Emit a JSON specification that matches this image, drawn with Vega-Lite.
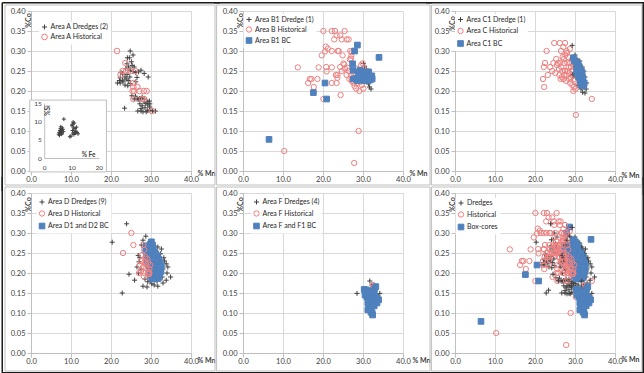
{
"$schema":"https://vega.github.io/schema/vega-lite/v6.json",
"background":"white",
"padding":{"left":0,"top":0,"right":0,"bottom":0},
"config":{"font":"Lato","view":{"stroke":null},
"axis":{"grid":true,"gridColor":"#d9d9d9","gridOpacity":1,"domainColor":"#bfbfbf","tickColor":"#bfbfbf","tickSize":4,"labelFontSize":7.5,"labelColor":"#404040","titleFontSize":7,"titleColor":"#404040","titleFontWeight":"bold","labelFlush":false,"labelPadding":2},
"legend":{"orient":"none","fillColor":"white","padding":2,"labelFontSize":7,"labelColor":"#262626","symbolStrokeWidth":1,"labelOffset":2.5,"title":null,"rowPadding":0}},
"datasets":{
"inset":[{"fe":5.5,"si":7.0},{"fe":5.8,"si":7.5},{"fe":6.0,"si":8.0},{"fe":6.2,"si":7.2},{"fe":6.5,"si":6.8},{"fe":5.3,"si":6.5},{"fe":6.8,"si":7.8},{"fe":6.1,"si":8.5},{"fe":5.6,"si":6.2},{"fe":6.4,"si":6.5},{"fe":7.0,"si":7.2},{"fe":6.6,"si":8.2},{"fe":5.9,"si":6.8},{"fe":6.3,"si":7.6},{"fe":10.2,"si":8.8},{"fe":10.6,"si":9.8},{"fe":11.0,"si":9.5},{"fe":10.4,"si":7.5},{"fe":10.8,"si":8.2},{"fe":11.3,"si":8.0},{"fe":11.6,"si":7.3},{"fe":12.0,"si":7.0},{"fe":10.5,"si":6.8},{"fe":11.1,"si":7.0},{"fe":12.4,"si":6.6},{"fe":10.9,"si":6.4},{"fe":11.8,"si":8.4},{"fe":10.3,"si":9.2},{"fe":11.5,"si":6.8},{"fe":7.2,"si":10.6},{"fe":9.4,"si":5.8},{"fe":9.8,"si":6.0}],
"pts":[
{"p":"A","t":"D","x":24.8,"y":0.300},{"p":"A","t":"D","x":25.5,"y":0.290},{"p":"A","t":"D","x":24.1,"y":0.283},{"p":"A","t":"D","x":24.6,"y":0.283},{"p":"A","t":"D","x":25.1,"y":0.273},{"p":"A","t":"D","x":24.0,"y":0.268},{"p":"A","t":"D","x":25.3,"y":0.264},{"p":"A","t":"D","x":24.4,"y":0.260},{"p":"A","t":"D","x":25.8,"y":0.260},{"p":"A","t":"D","x":23.7,"y":0.256},{"p":"A","t":"D","x":24.8,"y":0.252},{"p":"A","t":"D","x":25.5,"y":0.249},{"p":"A","t":"D","x":26.9,"y":0.248},{"p":"A","t":"D","x":22.5,"y":0.246},{"p":"A","t":"D","x":26.2,"y":0.246},{"p":"A","t":"D","x":22.9,"y":0.243},{"p":"A","t":"D","x":24.0,"y":0.241},{"p":"A","t":"D","x":23.5,"y":0.235},{"p":"A","t":"D","x":24.7,"y":0.235},{"p":"A","t":"D","x":22.3,"y":0.233},{"p":"A","t":"D","x":23.8,"y":0.230},{"p":"A","t":"D","x":22.9,"y":0.227},{"p":"A","t":"D","x":24.3,"y":0.226},{"p":"A","t":"D","x":22.1,"y":0.226},{"p":"A","t":"D","x":26.5,"y":0.234},{"p":"A","t":"D","x":27.5,"y":0.252},{"p":"A","t":"D","x":28.3,"y":0.244},{"p":"A","t":"D","x":29.3,"y":0.235},{"p":"A","t":"D","x":21.6,"y":0.220},{"p":"A","t":"D","x":22.3,"y":0.220},{"p":"A","t":"D","x":23.0,"y":0.223},{"p":"A","t":"D","x":26.2,"y":0.223},{"p":"A","t":"D","x":23.5,"y":0.215},{"p":"A","t":"D","x":24.2,"y":0.213},{"p":"A","t":"D","x":24.8,"y":0.219},{"p":"A","t":"D","x":25.8,"y":0.180},{"p":"A","t":"D","x":26.5,"y":0.180},{"p":"A","t":"D","x":27.1,"y":0.181},{"p":"A","t":"D","x":27.5,"y":0.181},{"p":"A","t":"D","x":27.8,"y":0.185},{"p":"A","t":"D","x":28.4,"y":0.180},{"p":"A","t":"D","x":28.3,"y":0.173},{"p":"A","t":"D","x":29.2,"y":0.173},{"p":"A","t":"D","x":29.6,"y":0.175},{"p":"A","t":"D","x":28.7,"y":0.169},{"p":"A","t":"D","x":27.2,"y":0.168},{"p":"A","t":"D","x":29.7,"y":0.168},{"p":"A","t":"D","x":27.8,"y":0.163},{"p":"A","t":"D","x":29.2,"y":0.165},{"p":"A","t":"D","x":29.7,"y":0.160},{"p":"A","t":"D","x":28.5,"y":0.158},{"p":"A","t":"D","x":27.5,"y":0.156},{"p":"A","t":"D","x":26.7,"y":0.150},{"p":"A","t":"D","x":27.5,"y":0.150},{"p":"A","t":"D","x":28.8,"y":0.148},{"p":"A","t":"D","x":29.2,"y":0.151},{"p":"A","t":"D","x":29.7,"y":0.152},{"p":"A","t":"D","x":30.4,"y":0.150},{"p":"A","t":"D","x":31.1,"y":0.150},{"p":"A","t":"D","x":28.0,"y":0.148},{"p":"A","t":"D","x":23.4,"y":0.157},{"p":"A","t":"D","x":25.2,"y":0.188},{"p":"A","t":"D","x":26.1,"y":0.187},{"p":"A","t":"D","x":26.8,"y":0.179},
{"p":"A","t":"H","x":21.5,"y":0.300},{"p":"A","t":"H","x":23.6,"y":0.270},{"p":"A","t":"H","x":22.9,"y":0.250},{"p":"A","t":"H","x":23.8,"y":0.250},{"p":"A","t":"H","x":24.8,"y":0.250},{"p":"A","t":"H","x":26.0,"y":0.250},{"p":"A","t":"H","x":22.4,"y":0.240},{"p":"A","t":"H","x":25.6,"y":0.220},{"p":"A","t":"H","x":25.6,"y":0.210},{"p":"A","t":"H","x":26.6,"y":0.210},{"p":"A","t":"H","x":25.4,"y":0.200},{"p":"A","t":"H","x":25.8,"y":0.200},{"p":"A","t":"H","x":27.1,"y":0.200},{"p":"A","t":"H","x":28.2,"y":0.200},{"p":"A","t":"H","x":28.9,"y":0.200},{"p":"A","t":"H","x":25.6,"y":0.180},{"p":"A","t":"H","x":27.75,"y":0.180},{"p":"A","t":"H","x":28.3,"y":0.180},{"p":"A","t":"H","x":30.25,"y":0.150},
{"p":"B","t":"D","x":30.1,"y":0.269},{"p":"B","t":"D","x":30.4,"y":0.262},{"p":"B","t":"D","x":30.8,"y":0.255},{"p":"B","t":"D","x":31.2,"y":0.235},{"p":"B","t":"D","x":31.6,"y":0.210},{"p":"B","t":"D","x":32.0,"y":0.205},{"p":"B","t":"D","x":30.6,"y":0.240},{"p":"B","t":"D","x":29.8,"y":0.250},{"p":"B","t":"D","x":31.0,"y":0.222},{"p":"B","t":"D","x":29.5,"y":0.232},{"p":"B","t":"D","x":30.3,"y":0.228},{"p":"B","t":"D","x":31.4,"y":0.218},
{"p":"B","t":"H","x":20.1,"y":0.350},{"p":"B","t":"H","x":22.2,"y":0.350},{"p":"B","t":"H","x":23.0,"y":0.350},{"p":"B","t":"H","x":25.4,"y":0.350},{"p":"B","t":"H","x":23.4,"y":0.339},{"p":"B","t":"H","x":24.3,"y":0.339},{"p":"B","t":"H","x":22.8,"y":0.329},{"p":"B","t":"H","x":24.7,"y":0.329},{"p":"B","t":"H","x":25.9,"y":0.329},{"p":"B","t":"H","x":26.4,"y":0.329},{"p":"B","t":"H","x":20.7,"y":0.311},{"p":"B","t":"H","x":21.2,"y":0.306},{"p":"B","t":"H","x":22.2,"y":0.300},{"p":"B","t":"H","x":23.7,"y":0.300},{"p":"B","t":"H","x":23.9,"y":0.300},{"p":"B","t":"H","x":26.8,"y":0.300},{"p":"B","t":"H","x":27.2,"y":0.297},{"p":"B","t":"H","x":19.7,"y":0.289},{"p":"B","t":"H","x":24.9,"y":0.289},{"p":"B","t":"H","x":26.7,"y":0.279},{"p":"B","t":"H","x":27.0,"y":0.281},{"p":"B","t":"H","x":27.1,"y":0.288},{"p":"B","t":"H","x":25.1,"y":0.269},{"p":"B","t":"H","x":25.3,"y":0.266},{"p":"B","t":"H","x":18.9,"y":0.259},{"p":"B","t":"H","x":20.8,"y":0.260},{"p":"B","t":"H","x":22.2,"y":0.259},{"p":"B","t":"H","x":13.7,"y":0.259},{"p":"B","t":"H","x":20.9,"y":0.249},{"p":"B","t":"H","x":23.2,"y":0.240},{"p":"B","t":"H","x":23.6,"y":0.240},{"p":"B","t":"H","x":24.3,"y":0.260},{"p":"B","t":"H","x":24.7,"y":0.250},{"p":"B","t":"H","x":25.5,"y":0.256},{"p":"B","t":"H","x":26.4,"y":0.250},{"p":"B","t":"H","x":25.9,"y":0.240},{"p":"B","t":"H","x":16.7,"y":0.230},{"p":"B","t":"H","x":17.1,"y":0.230},{"p":"B","t":"H","x":18.6,"y":0.230},{"p":"B","t":"H","x":16.3,"y":0.220},{"p":"B","t":"H","x":22.2,"y":0.220},{"p":"B","t":"H","x":23.4,"y":0.220},{"p":"B","t":"H","x":17.7,"y":0.210},{"p":"B","t":"H","x":20.1,"y":0.180},{"p":"B","t":"H","x":24.4,"y":0.190},{"p":"B","t":"H","x":26.6,"y":0.230},{"p":"B","t":"H","x":27.2,"y":0.230},{"p":"B","t":"H","x":27.6,"y":0.220},{"p":"B","t":"H","x":27.2,"y":0.225},{"p":"B","t":"H","x":27.9,"y":0.212},{"p":"B","t":"H","x":28.5,"y":0.220},{"p":"B","t":"H","x":28.9,"y":0.231},{"p":"B","t":"H","x":29.3,"y":0.223},{"p":"B","t":"H","x":29.7,"y":0.215},{"p":"B","t":"H","x":29.1,"y":0.200},{"p":"B","t":"H","x":29.5,"y":0.264},{"p":"B","t":"H","x":29.9,"y":0.269},{"p":"B","t":"H","x":30.1,"y":0.256},{"p":"B","t":"H","x":30.5,"y":0.248},{"p":"B","t":"H","x":30.0,"y":0.238},{"p":"B","t":"H","x":29.5,"y":0.244},{"p":"B","t":"H","x":28.9,"y":0.100},{"p":"B","t":"H","x":27.8,"y":0.020},{"p":"B","t":"H","x":10.3,"y":0.050},{"p":"B","t":"H","x":27.6,"y":0.244},{"p":"B","t":"H","x":27.0,"y":0.238},{"p":"B","t":"H","x":28.1,"y":0.238},{"p":"B","t":"H","x":28.3,"y":0.206},{"p":"B","t":"H","x":30.1,"y":0.206},{"p":"B","t":"H","x":28.5,"y":0.256},{"p":"B","t":"H","x":26.1,"y":0.258},{"p":"B","t":"H","x":23.6,"y":0.233},{"p":"B","t":"H","x":20.5,"y":0.299},
{"p":"B","t":"B","x":6.5,"y":0.079},{"p":"B","t":"B","x":17.6,"y":0.196},{"p":"B","t":"B","x":20.5,"y":0.220},{"p":"B","t":"B","x":20.9,"y":0.180},{"p":"B","t":"B","x":27.9,"y":0.300},{"p":"B","t":"B","x":28.6,"y":0.315},{"p":"B","t":"B","x":34.0,"y":0.284},{"p":"B","t":"B","x":27.4,"y":0.268},{"p":"B","t":"B","x":27.5,"y":0.252},{"p":"B","t":"B","x":27.6,"y":0.230},{"p":"B","t":"B","x":28.8,"y":0.248},{"p":"B","t":"B","x":29.3,"y":0.252},{"p":"B","t":"B","x":29.8,"y":0.248},{"p":"B","t":"B","x":29.1,"y":0.240},{"p":"B","t":"B","x":30.1,"y":0.241},{"p":"B","t":"B","x":30.5,"y":0.233},{"p":"B","t":"B","x":31.0,"y":0.238},{"p":"B","t":"B","x":31.4,"y":0.248},{"p":"B","t":"B","x":31.8,"y":0.233},{"p":"B","t":"B","x":32.2,"y":0.238},{"p":"B","t":"B","x":29.0,"y":0.230},{"p":"B","t":"B","x":29.6,"y":0.228},{"p":"B","t":"B","x":30.2,"y":0.226},{"p":"B","t":"B","x":30.8,"y":0.228},{"p":"B","t":"B","x":31.3,"y":0.226},{"p":"B","t":"B","x":31.8,"y":0.228},{"p":"B","t":"B","x":32.3,"y":0.230},{"p":"B","t":"B","x":29.4,"y":0.235},{"p":"B","t":"B","x":28.6,"y":0.226},{"p":"B","t":"B","x":28.4,"y":0.232},
{"p":"C","t":"H","x":22.3,"y":0.21},{"p":"C","t":"H","x":22.0,"y":0.23},{"p":"C","t":"H","x":22.5,"y":0.27},{"p":"C","t":"H","x":22.2,"y":0.26},{"p":"C","t":"H","x":22.9,"y":0.30},{"p":"C","t":"H","x":23.2,"y":0.24},{"p":"C","t":"H","x":23.8,"y":0.26},{"p":"C","t":"H","x":24.8,"y":0.32},{"p":"C","t":"H","x":26.2,"y":0.32},{"p":"C","t":"H","x":27.5,"y":0.32},{"p":"C","t":"H","x":27.1,"y":0.31},{"p":"C","t":"H","x":26.5,"y":0.30},{"p":"C","t":"H","x":27.9,"y":0.30},{"p":"C","t":"H","x":28.0,"y":0.295},{"p":"C","t":"H","x":25.7,"y":0.27},{"p":"C","t":"H","x":26.3,"y":0.27},{"p":"C","t":"H","x":25.5,"y":0.265},{"p":"C","t":"H","x":26.0,"y":0.255},{"p":"C","t":"H","x":26.6,"y":0.26},{"p":"C","t":"H","x":27.2,"y":0.28},{"p":"C","t":"H","x":27.6,"y":0.29},{"p":"C","t":"H","x":28.3,"y":0.285},{"p":"C","t":"H","x":27.3,"y":0.27},{"p":"C","t":"H","x":28.1,"y":0.27},{"p":"C","t":"H","x":28.8,"y":0.27},{"p":"C","t":"H","x":26.8,"y":0.25},{"p":"C","t":"H","x":27.5,"y":0.25},{"p":"C","t":"H","x":28.2,"y":0.25},{"p":"C","t":"H","x":26.1,"y":0.24},{"p":"C","t":"H","x":26.7,"y":0.235},{"p":"C","t":"H","x":27.3,"y":0.24},{"p":"C","t":"H","x":27.9,"y":0.24},{"p":"C","t":"H","x":28.6,"y":0.245},{"p":"C","t":"H","x":29.3,"y":0.25},{"p":"C","t":"H","x":26.4,"y":0.23},{"p":"C","t":"H","x":27.1,"y":0.23},{"p":"C","t":"H","x":27.8,"y":0.225},{"p":"C","t":"H","x":28.5,"y":0.23},{"p":"C","t":"H","x":29.0,"y":0.235},{"p":"C","t":"H","x":29.5,"y":0.24},{"p":"C","t":"H","x":28.8,"y":0.22},{"p":"C","t":"H","x":29.3,"y":0.215},{"p":"C","t":"H","x":29.8,"y":0.21},{"p":"C","t":"H","x":29.6,"y":0.20},{"p":"C","t":"H","x":30.1,"y":0.205},{"p":"C","t":"H","x":29.9,"y":0.225},{"p":"C","t":"H","x":29.0,"y":0.26},{"p":"C","t":"H","x":29.6,"y":0.265},{"p":"C","t":"H","x":28.4,"y":0.26},{"p":"C","t":"H","x":29.3,"y":0.28},{"p":"C","t":"H","x":28.7,"y":0.305},{"p":"C","t":"H","x":26.9,"y":0.285},{"p":"C","t":"H","x":25.3,"y":0.28},{"p":"C","t":"H","x":24.6,"y":0.27},{"p":"C","t":"H","x":24.3,"y":0.25},{"p":"C","t":"H","x":25.1,"y":0.245},{"p":"C","t":"H","x":34.2,"y":0.18},{"p":"C","t":"H","x":30.2,"y":0.14},{"p":"C","t":"H","x":29.9,"y":0.23},{"p":"C","t":"H","x":30.3,"y":0.245},
{"p":"C","t":"D","x":29.3,"y":0.314},{"p":"C","t":"D","x":30.0,"y":0.29},{"p":"C","t":"D","x":30.5,"y":0.28},{"p":"C","t":"D","x":31.2,"y":0.275},{"p":"C","t":"D","x":31.8,"y":0.26},{"p":"C","t":"D","x":32.2,"y":0.25},{"p":"C","t":"D","x":31.5,"y":0.245},{"p":"C","t":"D","x":32.5,"y":0.235},{"p":"C","t":"D","x":32.9,"y":0.22},{"p":"C","t":"D","x":32.3,"y":0.21},{"p":"C","t":"D","x":31.5,"y":0.205},{"p":"C","t":"D","x":31.9,"y":0.197},{"p":"C","t":"D","x":32.5,"y":0.195},{"p":"C","t":"D","x":30.8,"y":0.215},{"p":"C","t":"D","x":31.1,"y":0.225},{"p":"C","t":"D","x":29.9,"y":0.245},{"p":"C","t":"D","x":29.5,"y":0.24},{"p":"C","t":"D","x":30.4,"y":0.235},{"p":"C","t":"D","x":32.0,"y":0.24},{"p":"C","t":"D","x":31.0,"y":0.265},{"p":"C","t":"D","x":30.0,"y":0.262},{"p":"C","t":"D","x":32.8,"y":0.205},{"p":"C","t":"D","x":31.3,"y":0.212},
{"p":"C","t":"B","x":29.6,"y":0.283},{"p":"C","t":"B","x":29.8,"y":0.275},{"p":"C","t":"B","x":30.3,"y":0.272},{"p":"C","t":"B","x":30.8,"y":0.268},{"p":"C","t":"B","x":31.0,"y":0.262},{"p":"C","t":"B","x":30.5,"y":0.255},{"p":"C","t":"B","x":31.3,"y":0.255},{"p":"C","t":"B","x":31.6,"y":0.25},{"p":"C","t":"B","x":30.6,"y":0.245},{"p":"C","t":"B","x":31.1,"y":0.244},{"p":"C","t":"B","x":31.8,"y":0.242},{"p":"C","t":"B","x":30.9,"y":0.235},{"p":"C","t":"B","x":31.5,"y":0.232},{"p":"C","t":"B","x":32.0,"y":0.23},{"p":"C","t":"B","x":31.3,"y":0.225},{"p":"C","t":"B","x":31.9,"y":0.222},{"p":"C","t":"B","x":32.3,"y":0.22},{"p":"C","t":"B","x":31.6,"y":0.215},{"p":"C","t":"B","x":32.2,"y":0.213},{"p":"C","t":"B","x":30.4,"y":0.25},{"p":"C","t":"B","x":30.8,"y":0.252},{"p":"C","t":"B","x":31.2,"y":0.238},
{"p":"D","t":"D","x":23.9,"y":0.323},{"p":"D","t":"D","x":20.3,"y":0.277},{"p":"D","t":"D","x":24.5,"y":0.197},{"p":"D","t":"D","x":22.8,"y":0.150},{"p":"D","t":"D","x":25.9,"y":0.182},{"p":"D","t":"D","x":28.7,"y":0.292},{"p":"D","t":"D","x":28.0,"y":0.282},{"p":"D","t":"D","x":27.6,"y":0.270},{"p":"D","t":"D","x":28.4,"y":0.265},{"p":"D","t":"D","x":31.7,"y":0.265},{"p":"D","t":"D","x":31.0,"y":0.255},{"p":"D","t":"D","x":32.4,"y":0.248},{"p":"D","t":"D","x":33.4,"y":0.230},{"p":"D","t":"D","x":33.8,"y":0.223},{"p":"D","t":"D","x":34.2,"y":0.215},{"p":"D","t":"D","x":34.9,"y":0.190},{"p":"D","t":"D","x":33.8,"y":0.182},{"p":"D","t":"D","x":31.7,"y":0.167},{"p":"D","t":"D","x":28.0,"y":0.167},{"p":"D","t":"D","x":30.2,"y":0.173},{"p":"D","t":"D","x":29.2,"y":0.178},{"p":"D","t":"D","x":32.5,"y":0.200},{"p":"D","t":"D","x":27.0,"y":0.228},{"p":"D","t":"D","x":26.8,"y":0.244},{"p":"D","t":"D","x":27.5,"y":0.210},{"p":"D","t":"D","x":33.0,"y":0.210},{"p":"D","t":"D","x":32.8,"y":0.190},{"p":"D","t":"D","x":31.5,"y":0.180},{"p":"D","t":"D","x":30.8,"y":0.185},{"p":"D","t":"D","x":29.8,"y":0.180},{"p":"D","t":"D","x":27.2,"y":0.238},{"p":"D","t":"D","x":26.9,"y":0.200},{"p":"D","t":"D","x":28.5,"y":0.185},{"p":"D","t":"D","x":32.0,"y":0.225},{"p":"D","t":"D","x":33.2,"y":0.238},{"p":"D","t":"D","x":32.6,"y":0.260},{"p":"D","t":"D","x":30.5,"y":0.262},{"p":"D","t":"D","x":29.5,"y":0.245},{"p":"D","t":"D","x":28.9,"y":0.230},{"p":"D","t":"D","x":26.5,"y":0.215},{"p":"D","t":"D","x":34.0,"y":0.200},{"p":"D","t":"D","x":33.0,"y":0.175},{"p":"D","t":"D","x":29.0,"y":0.165},{"p":"D","t":"D","x":30.8,"y":0.170},
{"p":"D","t":"B","x":30.1,"y":0.278},{"p":"D","t":"B","x":29.8,"y":0.272},{"p":"D","t":"B","x":30.4,"y":0.270},{"p":"D","t":"B","x":28.8,"y":0.268},{"p":"D","t":"B","x":29.2,"y":0.262},{"p":"D","t":"B","x":29.9,"y":0.262},{"p":"D","t":"B","x":30.6,"y":0.262},{"p":"D","t":"B","x":28.7,"y":0.255},{"p":"D","t":"B","x":29.5,"y":0.254},{"p":"D","t":"B","x":30.2,"y":0.254},{"p":"D","t":"B","x":30.9,"y":0.252},{"p":"D","t":"B","x":28.9,"y":0.247},{"p":"D","t":"B","x":29.6,"y":0.246},{"p":"D","t":"B","x":30.3,"y":0.245},{"p":"D","t":"B","x":31.0,"y":0.244},{"p":"D","t":"B","x":31.6,"y":0.243},{"p":"D","t":"B","x":29.3,"y":0.240},{"p":"D","t":"B","x":30.0,"y":0.238},{"p":"D","t":"B","x":30.7,"y":0.237},{"p":"D","t":"B","x":31.4,"y":0.236},{"p":"D","t":"B","x":32.0,"y":0.234},{"p":"D","t":"B","x":29.6,"y":0.232},{"p":"D","t":"B","x":30.3,"y":0.230},{"p":"D","t":"B","x":31.0,"y":0.229},{"p":"D","t":"B","x":31.7,"y":0.228},{"p":"D","t":"B","x":32.3,"y":0.226},{"p":"D","t":"B","x":29.2,"y":0.225},{"p":"D","t":"B","x":29.9,"y":0.223},{"p":"D","t":"B","x":30.6,"y":0.222},{"p":"D","t":"B","x":31.3,"y":0.221},{"p":"D","t":"B","x":32.0,"y":0.220},{"p":"D","t":"B","x":32.6,"y":0.218},{"p":"D","t":"B","x":29.5,"y":0.216},{"p":"D","t":"B","x":30.2,"y":0.215},{"p":"D","t":"B","x":30.9,"y":0.214},{"p":"D","t":"B","x":31.6,"y":0.213},{"p":"D","t":"B","x":32.3,"y":0.212},{"p":"D","t":"B","x":29.8,"y":0.208},{"p":"D","t":"B","x":30.5,"y":0.207},{"p":"D","t":"B","x":31.2,"y":0.206},{"p":"D","t":"B","x":31.9,"y":0.205},{"p":"D","t":"B","x":32.5,"y":0.204},{"p":"D","t":"B","x":29.5,"y":0.200},{"p":"D","t":"B","x":30.2,"y":0.199},{"p":"D","t":"B","x":30.9,"y":0.198},{"p":"D","t":"B","x":31.6,"y":0.197},{"p":"D","t":"B","x":32.2,"y":0.196},{"p":"D","t":"B","x":29.9,"y":0.192},{"p":"D","t":"B","x":30.6,"y":0.191},{"p":"D","t":"B","x":31.3,"y":0.190},{"p":"D","t":"B","x":32.0,"y":0.189},{"p":"D","t":"B","x":30.3,"y":0.186},{"p":"D","t":"B","x":31.0,"y":0.185},{"p":"D","t":"B","x":31.7,"y":0.186},{"p":"D","t":"B","x":30.0,"y":0.250},{"p":"D","t":"B","x":30.5,"y":0.240},{"p":"D","t":"B","x":29.0,"y":0.232},{"p":"D","t":"B","x":31.2,"y":0.248},{"p":"D","t":"B","x":29.7,"y":0.210},{"p":"D","t":"B","x":30.8,"y":0.230},
{"p":"D","t":"H","x":25.1,"y":0.300},{"p":"D","t":"H","x":25.6,"y":0.270},{"p":"D","t":"H","x":23.0,"y":0.250},{"p":"D","t":"H","x":28.1,"y":0.270},{"p":"D","t":"H","x":28.3,"y":0.258},{"p":"D","t":"H","x":27.8,"y":0.245},{"p":"D","t":"H","x":28.6,"y":0.240},{"p":"D","t":"H","x":29.1,"y":0.235},{"p":"D","t":"H","x":27.5,"y":0.230},{"p":"D","t":"H","x":28.4,"y":0.228},{"p":"D","t":"H","x":29.3,"y":0.226},{"p":"D","t":"H","x":27.2,"y":0.220},{"p":"D","t":"H","x":28.0,"y":0.215},{"p":"D","t":"H","x":28.8,"y":0.212},{"p":"D","t":"H","x":29.6,"y":0.210},{"p":"D","t":"H","x":27.5,"y":0.205},{"p":"D","t":"H","x":28.3,"y":0.200},{"p":"D","t":"H","x":29.2,"y":0.198},{"p":"D","t":"H","x":28.2,"y":0.192},{"p":"D","t":"H","x":29.4,"y":0.203},{"p":"D","t":"H","x":29.6,"y":0.200},{"p":"D","t":"H","x":29.5,"y":0.197},{"p":"D","t":"H","x":27.0,"y":0.200},{"p":"D","t":"H","x":28.7,"y":0.222},{"p":"D","t":"H","x":29.8,"y":0.220},
{"p":"F","t":"D","x":28.5,"y":0.149},{"p":"F","t":"D","x":31.7,"y":0.180},{"p":"F","t":"D","x":34.2,"y":0.149},{"p":"F","t":"D","x":32.7,"y":0.151},{"p":"F","t":"D","x":33.5,"y":0.140},{"p":"F","t":"D","x":31.0,"y":0.145},{"p":"F","t":"D","x":30.6,"y":0.152},{"p":"F","t":"D","x":31.5,"y":0.128},{"p":"F","t":"D","x":32.9,"y":0.122},{"p":"F","t":"D","x":33.8,"y":0.142},{"p":"F","t":"D","x":32.2,"y":0.170},{"p":"F","t":"D","x":30.9,"y":0.135},{"p":"F","t":"D","x":33.2,"y":0.160},{"p":"F","t":"D","x":31.3,"y":0.115},{"p":"F","t":"D","x":32.6,"y":0.112},{"p":"F","t":"D","x":34.0,"y":0.130},{"p":"F","t":"D","x":31.8,"y":0.160},{"p":"F","t":"D","x":30.5,"y":0.140},{"p":"F","t":"D","x":32.4,"y":0.145},{"p":"F","t":"D","x":33.0,"y":0.135},
{"p":"F","t":"H","x":32.5,"y":0.170},{"p":"F","t":"H","x":32.7,"y":0.165},
{"p":"F","t":"B","x":30.3,"y":0.159},{"p":"F","t":"B","x":30.8,"y":0.158},{"p":"F","t":"B","x":31.2,"y":0.150},{"p":"F","t":"B","x":30.5,"y":0.145},{"p":"F","t":"B","x":31.0,"y":0.140},{"p":"F","t":"B","x":31.6,"y":0.142},{"p":"F","t":"B","x":32.2,"y":0.140},{"p":"F","t":"B","x":32.8,"y":0.145},{"p":"F","t":"B","x":33.3,"y":0.140},{"p":"F","t":"B","x":32.9,"y":0.160},{"p":"F","t":"B","x":33.2,"y":0.166},{"p":"F","t":"B","x":31.4,"y":0.133},{"p":"F","t":"B","x":32.0,"y":0.132},{"p":"F","t":"B","x":32.6,"y":0.130},{"p":"F","t":"B","x":33.9,"y":0.133},{"p":"F","t":"B","x":33.5,"y":0.125},{"p":"F","t":"B","x":31.2,"y":0.125},{"p":"F","t":"B","x":31.8,"y":0.122},{"p":"F","t":"B","x":32.4,"y":0.120},{"p":"F","t":"B","x":31.5,"y":0.112},{"p":"F","t":"B","x":32.1,"y":0.110},{"p":"F","t":"B","x":31.8,"y":0.108},{"p":"F","t":"B","x":32.3,"y":0.100},{"p":"F","t":"B","x":32.4,"y":0.095},{"p":"F","t":"B","x":32.0,"y":0.102},{"p":"F","t":"B","x":31.2,"y":0.108},{"p":"F","t":"B","x":32.8,"y":0.118},{"p":"F","t":"B","x":30.7,"y":0.150},{"p":"F","t":"B","x":31.8,"y":0.150},{"p":"F","t":"B","x":32.3,"y":0.153}
]},
"columns":3,
"spacing":{"row":22,"column":52},
"bounds":"flush",
"resolve":{"scale":{"x":"independent","y":"independent","shape":"independent","stroke":"independent","fill":"independent","size":"independent"},"legend":{"shape":"independent","stroke":"independent","fill":"independent","size":"independent"}},
"concat":[
{"width":160,"height":160,
 "resolve":{"scale":{"x":"independent","y":"independent"},"axis":{"x":"independent","y":"independent"}},
 "layer":[
  {"layer":[
   {"data":{"name":"pts"},"transform":[{"filter":"datum.p=='A'"}],
    "mark":{"type":"point","strokeWidth":1,"opacity":1},
    "encoding":{
     "x":{"field":"x","type":"quantitative","scale":{"domain":[0,40],"nice":false},"axis":{"values":[0,10,20,30,40],"format":".1f","labelPadding":0,"title":"% Mn","titleX":166,"titleY":2,"titleAlign":"left","titleBaseline":"middle"}},
     "y":{"field":"y","type":"quantitative","scale":{"domain":[0,0.4],"nice":false},"axis":{"values":[0,0.05,0.1,0.15,0.2,0.25,0.3,0.35,0.4],"format":".2f","title":"%Co","titleAngle":270,"titleX":-3,"titleY":9,"titleAlign":"center","titleBaseline":"middle"}},
     "shape":{"field":"t","type":"nominal","scale":{"domain":["D","H"],"range":["M-1,0H1M0,-1V1","circle"]},"legend":{"legendX":8,"legendY":10.5,"labelExpr":"datum.label=='D'?'Area A Dredges (2)':'Area A Historical'"}},
     "stroke":{"field":"t","type":"nominal","scale":{"domain":["D","H"],"range":["#404040","#ee8080"]},"legend":{"legendX":8,"legendY":10.5,"labelExpr":"datum.label=='D'?'Area A Dredges (2)':'Area A Historical'"}},
     "fill":{"field":"t","type":"nominal","scale":{"domain":["D","H"],"range":["transparent","transparent"]},"legend":{"legendX":8,"legendY":10.5,"labelExpr":"datum.label=='D'?'Area A Dredges (2)':'Area A Historical'"}},
     "size":{"field":"t","type":"nominal","scale":{"domain":["D","H"],"range":[25,32]},"legend":{"legendX":8,"legendY":10.5,"labelExpr":"datum.label=='D'?'Area A Dredges (2)':'Area A Historical'"}}
    }},
   {"data":{"values":[{}]},"mark":{"type":"rect","fill":"transparent","stroke":"#bfbfbf","strokeWidth":1},
    "encoding":{"x":{"datum":-6.5,"type":"quantitative","axis":{"values":[0,10,20,30,40],"format":".1f","labelPadding":0,"title":"% Mn","titleX":166,"titleY":2,"titleAlign":"left","titleBaseline":"middle"}},"x2":{"datum":46.0},"y":{"datum":-0.035,"type":"quantitative","axis":{"values":[0,0.05,0.1,0.15,0.2,0.25,0.3,0.35,0.4],"format":".2f","title":"%Co","titleAngle":270,"titleX":-3,"titleY":9,"titleAlign":"center","titleBaseline":"middle"}},"y2":{"datum":0.415}}},
   {"data":{"values":[{}]},"mark":{"type":"rule","stroke":"#1a1a1a","strokeWidth":1.5},
    "encoding":{"x":{"datum":-7.19,"type":"quantitative","axis":{"values":[0,10,20,30,40],"format":".1f","labelPadding":0,"title":"% Mn","titleX":166,"titleY":2,"titleAlign":"left","titleBaseline":"middle"}},"x2":{"datum":47.2},"y":{"datum":0.4206,"type":"quantitative","axis":{"values":[0,0.05,0.1,0.15,0.2,0.25,0.3,0.35,0.4],"format":".2f","title":"%Co","titleAngle":270,"titleX":-3,"titleY":9,"titleAlign":"center","titleBaseline":"middle"}}}},
   {"data":{"values":[{}]},"mark":{"type":"rule","stroke":"#1a1a1a","strokeWidth":1.5},
    "encoding":{"x":{"datum":-7.19,"type":"quantitative","axis":{"values":[0,10,20,30,40],"format":".1f","labelPadding":0,"title":"% Mn","titleX":166,"titleY":2,"titleAlign":"left","titleBaseline":"middle"}},"y":{"datum":-0.05,"type":"quantitative","axis":{"values":[0,0.05,0.1,0.15,0.2,0.25,0.3,0.35,0.4],"format":".2f","title":"%Co","titleAngle":270,"titleX":-3,"titleY":9,"titleAlign":"center","titleBaseline":"middle"}},"y2":{"datum":0.4206}}}
  ]},
  {"layer":[
   {"data":{"values":[{}]},"mark":{"type":"rect","fill":"white","stroke":"#bfbfbf","strokeWidth":1},
    "encoding":{"x":{"datum":-5.3,"type":"quantitative","scale":{"domain":[0,20],"range":[13.2,67.8],"nice":false,"zero":false},"axis":{"orient":"bottom","offset":-13,"values":[0,10,20],"format":"d","ticks":false,"labelPadding":6,"labelFontSize":6.5,"title":"% Fe","titleX":57,"titleY":-4,"titleAlign":"center","titleBaseline":"middle","titleFontSize":6.5,"zindex":1}},"x2":{"datum":22.8},"y":{"datum":-3.8,"type":"quantitative","scale":{"domain":[0,15],"range":[147,92],"nice":false,"zero":false},"axis":{"orient":"left","offset":-13.2,"values":[0,5,10,15],"format":"d","ticks":false,"labelPadding":3,"labelFontSize":6.5,"title":"%Si","titleAngle":270,"titleX":3,"titleY":99,"titleAlign":"center","titleBaseline":"middle","titleFontSize":6.5,"zindex":1}},"y2":{"datum":15.8}}},
   {"data":{"name":"inset"},"mark":{"type":"point","shape":"M-1,0H1M0,-1V1","stroke":"#404040","strokeWidth":1,"size":16,"opacity":1,"fill":"transparent"},
    "encoding":{
     "x":{"field":"fe","type":"quantitative","scale":{"domain":[0,20],"range":[13.2,67.8],"nice":false,"zero":false},"axis":{"orient":"bottom","offset":-13,"values":[0,10,20],"format":"d","ticks":false,"labelPadding":6,"labelFontSize":6.5,"title":"% Fe","titleX":57,"titleY":-4,"titleAlign":"center","titleBaseline":"middle","titleFontSize":6.5,"zindex":1}},
     "y":{"field":"si","type":"quantitative","scale":{"domain":[0,15],"range":[147,92],"nice":false,"zero":false},"axis":{"orient":"left","offset":-13.2,"values":[0,5,10,15],"format":"d","ticks":false,"labelPadding":3,"labelFontSize":6.5,"title":"%Si","titleAngle":270,"titleX":3,"titleY":99,"titleAlign":"center","titleBaseline":"middle","titleFontSize":6.5,"zindex":1}}
    }}
  ]}
 ]},
{"width":160,"height":160,
 "layer":[
   {"data":{"name":"pts"},"transform":[{"filter":"datum.p=='B'"}],
    "mark":{"type":"point","strokeWidth":1,"opacity":1},
    "encoding":{
     "x":{"field":"x","type":"quantitative","scale":{"domain":[0,40],"nice":false},"axis":{"values":[0,10,20,30,40],"format":".1f","labelPadding":0,"title":"% Mn","titleX":166,"titleY":2,"titleAlign":"left","titleBaseline":"middle"}},
     "y":{"field":"y","type":"quantitative","scale":{"domain":[0,0.4],"nice":false},"axis":{"values":[0,0.05,0.1,0.15,0.2,0.25,0.3,0.35,0.4],"format":".2f","title":"%Co","titleAngle":270,"titleX":-3,"titleY":9,"titleAlign":"center","titleBaseline":"middle"}},
     "shape":{"field":"t","type":"nominal","scale":{"domain":["D","H","B"],"range":["M-1,0H1M0,-1V1","circle","square"]},"legend":{"legendX":0.5,"legendY":3,"labelExpr":"datum.label=='D'?'Area B1 Dredge (1)':datum.label=='H'?'Area B Historical':'Area B1 BC'"}},
     "stroke":{"field":"t","type":"nominal","scale":{"domain":["D","H","B"],"range":["#404040","#ee8080","#4f81bd"]},"legend":{"legendX":0.5,"legendY":3,"labelExpr":"datum.label=='D'?'Area B1 Dredge (1)':datum.label=='H'?'Area B Historical':'Area B1 BC'"}},
     "fill":{"field":"t","type":"nominal","scale":{"domain":["D","H","B"],"range":["transparent","transparent","#4f81bd"]},"legend":{"legendX":0.5,"legendY":3,"labelExpr":"datum.label=='D'?'Area B1 Dredge (1)':datum.label=='H'?'Area B Historical':'Area B1 BC'"}},
     "size":{"field":"t","type":"nominal","scale":{"domain":["D","H","B"],"range":[25,32,22]},"legend":{"legendX":0.5,"legendY":3,"labelExpr":"datum.label=='D'?'Area B1 Dredge (1)':datum.label=='H'?'Area B Historical':'Area B1 BC'"}}
    }},
   {"data":{"values":[{}]},"mark":{"type":"rect","fill":"transparent","stroke":"#bfbfbf","strokeWidth":1},
    "encoding":{"x":{"datum":-6.6,"type":"quantitative","axis":{"values":[0,10,20,30,40],"format":".1f","labelPadding":0,"title":"% Mn","titleX":166,"titleY":2,"titleAlign":"left","titleBaseline":"middle"}},"x2":{"datum":46.75},"y":{"datum":-0.035,"type":"quantitative","axis":{"values":[0,0.05,0.1,0.15,0.2,0.25,0.3,0.35,0.4],"format":".2f","title":"%Co","titleAngle":270,"titleX":-3,"titleY":9,"titleAlign":"center","titleBaseline":"middle"}},"y2":{"datum":0.415}}},
   {"data":{"values":[{}]},"mark":{"type":"rule","stroke":"#1a1a1a","strokeWidth":1.5},
    "encoding":{"x":{"datum":-7.2,"type":"quantitative","axis":{"values":[0,10,20,30,40],"format":".1f","labelPadding":0,"title":"% Mn","titleX":166,"titleY":2,"titleAlign":"left","titleBaseline":"middle"}},"x2":{"datum":47.2},"y":{"datum":0.4206,"type":"quantitative","axis":{"values":[0,0.05,0.1,0.15,0.2,0.25,0.3,0.35,0.4],"format":".2f","title":"%Co","titleAngle":270,"titleX":-3,"titleY":9,"titleAlign":"center","titleBaseline":"middle"}}}}
 ]},
{"width":160,"height":160,
 "layer":[
   {"data":{"name":"pts"},"transform":[{"filter":"datum.p=='C'"}],
    "mark":{"type":"point","strokeWidth":1,"opacity":1},
    "encoding":{
     "x":{"field":"x","type":"quantitative","scale":{"domain":[0,40],"nice":false},"axis":{"values":[0,10,20,30,40],"format":".1f","labelPadding":0,"title":"% Mn","titleX":166,"titleY":4,"titleAlign":"left","titleBaseline":"middle"}},
     "y":{"field":"y","type":"quantitative","scale":{"domain":[0,0.4],"nice":false},"axis":{"values":[0,0.05,0.1,0.15,0.2,0.25,0.3,0.35,0.4],"format":".2f","title":"%Co","titleAngle":270,"titleX":-3,"titleY":12,"titleAlign":"center","titleBaseline":"middle"}},
     "shape":{"field":"t","type":"nominal","scale":{"domain":["D","H","B"],"range":["M-1,0H1M0,-1V1","circle","square"]},"legend":{"legendX":0,"legendY":3,"rowPadding":1.5,"labelExpr":"datum.label=='D'?'Area C1 Dredge (1)':datum.label=='H'?'Area C Historical':'Area C1 BC'"}},
     "stroke":{"field":"t","type":"nominal","scale":{"domain":["D","H","B"],"range":["#404040","#ee8080","#4f81bd"]},"legend":{"legendX":0,"legendY":3,"rowPadding":1.5,"labelExpr":"datum.label=='D'?'Area C1 Dredge (1)':datum.label=='H'?'Area C Historical':'Area C1 BC'"}},
     "fill":{"field":"t","type":"nominal","scale":{"domain":["D","H","B"],"range":["transparent","transparent","#4f81bd"]},"legend":{"legendX":0,"legendY":3,"rowPadding":1.5,"labelExpr":"datum.label=='D'?'Area C1 Dredge (1)':datum.label=='H'?'Area C Historical':'Area C1 BC'"}},
     "size":{"field":"t","type":"nominal","scale":{"domain":["D","H","B"],"range":[25,32,22]},"legend":{"legendX":0,"legendY":3,"rowPadding":1.5,"labelExpr":"datum.label=='D'?'Area C1 Dredge (1)':datum.label=='H'?'Area C Historical':'Area C1 BC'"}}
    }},
   {"data":{"values":[{}]},"mark":{"type":"rect","fill":"transparent","stroke":"#bfbfbf","strokeWidth":1},
    "encoding":{"x":{"datum":-5.9,"type":"quantitative","axis":{"values":[0,10,20,30,40],"format":".1f","labelPadding":0,"title":"% Mn","titleX":166,"titleY":4,"titleAlign":"left","titleBaseline":"middle"}},"x2":{"datum":46.75},"y":{"datum":-0.035,"type":"quantitative","axis":{"values":[0,0.05,0.1,0.15,0.2,0.25,0.3,0.35,0.4],"format":".2f","title":"%Co","titleAngle":270,"titleX":-3,"titleY":12,"titleAlign":"center","titleBaseline":"middle"}},"y2":{"datum":0.415}}},
   {"data":{"values":[{}]},"mark":{"type":"rule","stroke":"#1a1a1a","strokeWidth":1.5},
    "encoding":{"x":{"datum":-7.2,"type":"quantitative","axis":{"values":[0,10,20,30,40],"format":".1f","labelPadding":0,"title":"% Mn","titleX":166,"titleY":4,"titleAlign":"left","titleBaseline":"middle"}},"x2":{"datum":47.6},"y":{"datum":0.4206,"type":"quantitative","axis":{"values":[0,0.05,0.1,0.15,0.2,0.25,0.3,0.35,0.4],"format":".2f","title":"%Co","titleAngle":270,"titleX":-3,"titleY":12,"titleAlign":"center","titleBaseline":"middle"}}}},
   {"data":{"values":[{}]},"mark":{"type":"rule","stroke":"#1a1a1a","strokeWidth":3},
    "encoding":{"x":{"datum":47.25,"type":"quantitative","axis":{"values":[0,10,20,30,40],"format":".1f","labelPadding":0,"title":"% Mn","titleX":166,"titleY":4,"titleAlign":"left","titleBaseline":"middle"}},"y":{"datum":-0.06,"type":"quantitative","axis":{"values":[0,0.05,0.1,0.15,0.2,0.25,0.3,0.35,0.4],"format":".2f","title":"%Co","titleAngle":270,"titleX":-3,"titleY":12,"titleAlign":"center","titleBaseline":"middle"}},"y2":{"datum":0.4225}}}
 ]},
{"width":160,"height":160,
 "layer":[
   {"data":{"name":"pts"},"transform":[{"filter":"datum.p=='D'"}],
    "mark":{"type":"point","strokeWidth":1,"opacity":1},
    "encoding":{
     "x":{"field":"x","type":"quantitative","scale":{"domain":[0,40],"nice":false},"axis":{"values":[0,10,20,30,40],"format":".1f","labelPadding":0,"title":"% Mn","titleX":166,"titleY":7,"titleAlign":"left","titleBaseline":"middle"}},
     "y":{"field":"y","type":"quantitative","scale":{"domain":[0,0.4],"nice":false},"axis":{"values":[0,0.05,0.1,0.15,0.2,0.25,0.3,0.35,0.4],"format":".2f","title":"%Co","titleAngle":270,"titleX":-3,"titleY":11,"titleAlign":"center","titleBaseline":"middle"}},
     "shape":{"field":"t","type":"nominal","scale":{"domain":["D","H","B"],"range":["M-1,0H1M0,-1V1","circle","square"]},"legend":{"legendX":5.5,"legendY":3.5,"rowPadding":1.5,"labelExpr":"datum.label=='D'?'Area D Dredges (9)':datum.label=='H'?'Area D Historical':'Area D1 and D2 BC'"}},
     "stroke":{"field":"t","type":"nominal","scale":{"domain":["D","H","B"],"range":["#404040","#ee8080","#4f81bd"]},"legend":{"legendX":5.5,"legendY":3.5,"rowPadding":1.5,"labelExpr":"datum.label=='D'?'Area D Dredges (9)':datum.label=='H'?'Area D Historical':'Area D1 and D2 BC'"}},
     "fill":{"field":"t","type":"nominal","scale":{"domain":["D","H","B"],"range":["transparent","transparent","#4f81bd"]},"legend":{"legendX":5.5,"legendY":3.5,"rowPadding":1.5,"labelExpr":"datum.label=='D'?'Area D Dredges (9)':datum.label=='H'?'Area D Historical':'Area D1 and D2 BC'"}},
     "size":{"field":"t","type":"nominal","scale":{"domain":["D","H","B"],"range":[25,32,22]},"legend":{"legendX":5.5,"legendY":3.5,"rowPadding":1.5,"labelExpr":"datum.label=='D'?'Area D Dredges (9)':datum.label=='H'?'Area D Historical':'Area D1 and D2 BC'"}}
    }},
   {"data":{"values":[{}]},"mark":{"type":"rect","fill":"transparent","stroke":"#bfbfbf","strokeWidth":1},
    "encoding":{"x":{"datum":-6.5,"type":"quantitative","axis":{"values":[0,10,20,30,40],"format":".1f","labelPadding":0,"title":"% Mn","titleX":166,"titleY":7,"titleAlign":"left","titleBaseline":"middle"}},"x2":{"datum":46.0},"y":{"datum":-0.045,"type":"quantitative","axis":{"values":[0,0.05,0.1,0.15,0.2,0.25,0.3,0.35,0.4],"format":".2f","title":"%Co","titleAngle":270,"titleX":-3,"titleY":11,"titleAlign":"center","titleBaseline":"middle"}},"y2":{"datum":0.415}}},
   {"data":{"values":[{}]},"mark":{"type":"rule","stroke":"#1a1a1a","strokeWidth":1.5},
    "encoding":{"x":{"datum":-7.19,"type":"quantitative","axis":{"values":[0,10,20,30,40],"format":".1f","labelPadding":0,"title":"% Mn","titleX":166,"titleY":7,"titleAlign":"left","titleBaseline":"middle"}},"y":{"datum":-0.055,"type":"quantitative","axis":{"values":[0,0.05,0.1,0.15,0.2,0.25,0.3,0.35,0.4],"format":".2f","title":"%Co","titleAngle":270,"titleX":-3,"titleY":11,"titleAlign":"center","titleBaseline":"middle"}},"y2":{"datum":0.44}}},
   {"data":{"values":[{}]},"mark":{"type":"rule","stroke":"#1a1a1a","strokeWidth":3},
    "encoding":{"x":{"datum":-7.2,"type":"quantitative","axis":{"values":[0,10,20,30,40],"format":".1f","labelPadding":0,"title":"% Mn","titleX":166,"titleY":7,"titleAlign":"left","titleBaseline":"middle"}},"x2":{"datum":47.2},"y":{"datum":-0.05125,"type":"quantitative","axis":{"values":[0,0.05,0.1,0.15,0.2,0.25,0.3,0.35,0.4],"format":".2f","title":"%Co","titleAngle":270,"titleX":-3,"titleY":11,"titleAlign":"center","titleBaseline":"middle"}}}}
 ]},
{"width":160,"height":160,
 "layer":[
   {"data":{"name":"pts"},"transform":[{"filter":"datum.p=='F'"}],
    "mark":{"type":"point","strokeWidth":1,"opacity":1},
    "encoding":{
     "x":{"field":"x","type":"quantitative","scale":{"domain":[0,40],"nice":false},"axis":{"values":[0,10,20,30,40],"format":".1f","labelPadding":0,"title":"% Mn","titleX":169,"titleY":7,"titleAlign":"left","titleBaseline":"middle"}},
     "y":{"field":"y","type":"quantitative","scale":{"domain":[0,0.4],"nice":false},"axis":{"values":[0,0.05,0.1,0.15,0.2,0.25,0.3,0.35,0.4],"format":".2f","title":"%Co","titleAngle":270,"titleX":-3,"titleY":11,"titleAlign":"center","titleBaseline":"middle"}},
     "shape":{"field":"t","type":"nominal","scale":{"domain":["D","H","B"],"range":["M-1,0H1M0,-1V1","circle","square"]},"legend":{"legendX":8,"legendY":3.5,"rowPadding":1.5,"labelExpr":"datum.label=='D'?'Area F Dredges (4)':datum.label=='H'?'Area F Historical':'Area F and F1 BC'"}},
     "stroke":{"field":"t","type":"nominal","scale":{"domain":["D","H","B"],"range":["#404040","#ee8080","#4f81bd"]},"legend":{"legendX":8,"legendY":3.5,"rowPadding":1.5,"labelExpr":"datum.label=='D'?'Area F Dredges (4)':datum.label=='H'?'Area F Historical':'Area F and F1 BC'"}},
     "fill":{"field":"t","type":"nominal","scale":{"domain":["D","H","B"],"range":["transparent","transparent","#4f81bd"]},"legend":{"legendX":8,"legendY":3.5,"rowPadding":1.5,"labelExpr":"datum.label=='D'?'Area F Dredges (4)':datum.label=='H'?'Area F Historical':'Area F and F1 BC'"}},
     "size":{"field":"t","type":"nominal","scale":{"domain":["D","H","B"],"range":[25,32,22]},"legend":{"legendX":8,"legendY":3.5,"rowPadding":1.5,"labelExpr":"datum.label=='D'?'Area F Dredges (4)':datum.label=='H'?'Area F Historical':'Area F and F1 BC'"}}
    }},
   {"data":{"values":[{}]},"mark":{"type":"rect","fill":"transparent","stroke":"#bfbfbf","strokeWidth":1},
    "encoding":{"x":{"datum":-6.6,"type":"quantitative","axis":{"values":[0,10,20,30,40],"format":".1f","labelPadding":0,"title":"% Mn","titleX":169,"titleY":7,"titleAlign":"left","titleBaseline":"middle"}},"x2":{"datum":46.75},"y":{"datum":-0.045,"type":"quantitative","axis":{"values":[0,0.05,0.1,0.15,0.2,0.25,0.3,0.35,0.4],"format":".2f","title":"%Co","titleAngle":270,"titleX":-3,"titleY":11,"titleAlign":"center","titleBaseline":"middle"}},"y2":{"datum":0.415}}},
   {"data":{"values":[{}]},"mark":{"type":"rule","stroke":"#1a1a1a","strokeWidth":3},
    "encoding":{"x":{"datum":-7.2,"type":"quantitative","axis":{"values":[0,10,20,30,40],"format":".1f","labelPadding":0,"title":"% Mn","titleX":169,"titleY":7,"titleAlign":"left","titleBaseline":"middle"}},"x2":{"datum":47.2},"y":{"datum":-0.05125,"type":"quantitative","axis":{"values":[0,0.05,0.1,0.15,0.2,0.25,0.3,0.35,0.4],"format":".2f","title":"%Co","titleAngle":270,"titleX":-3,"titleY":11,"titleAlign":"center","titleBaseline":"middle"}}}}
 ]},
{"width":160,"height":160,
 "layer":[
   {"data":{"name":"pts"},
    "mark":{"type":"point","strokeWidth":1,"opacity":1},
    "encoding":{
     "x":{"field":"x","type":"quantitative","scale":{"domain":[0,40],"nice":false},"axis":{"values":[0,10,20,30,40],"format":".1f","labelPadding":0,"title":"% Mn","titleX":166,"titleY":6,"titleAlign":"left","titleBaseline":"middle"}},
     "y":{"field":"y","type":"quantitative","scale":{"domain":[0,0.4],"nice":false},"axis":{"values":[0,0.05,0.1,0.15,0.2,0.25,0.3,0.35,0.4],"format":".2f","title":"%Co","titleAngle":270,"titleX":-3,"titleY":11,"titleAlign":"center","titleBaseline":"middle"}},
     "shape":{"field":"t","type":"nominal","scale":{"domain":["D","H","B"],"range":["M-1,0H1M0,-1V1","circle","square"]},"legend":{"legendX":0.5,"legendY":4.5,"rowPadding":1.5,"labelExpr":"datum.label=='D'?'Dredges':datum.label=='H'?'Historical':'Box-cores'"}},
     "stroke":{"field":"t","type":"nominal","scale":{"domain":["D","H","B"],"range":["#404040","#ee8080","#4f81bd"]},"legend":{"legendX":0.5,"legendY":4.5,"rowPadding":1.5,"labelExpr":"datum.label=='D'?'Dredges':datum.label=='H'?'Historical':'Box-cores'"}},
     "fill":{"field":"t","type":"nominal","scale":{"domain":["D","H","B"],"range":["transparent","transparent","#4f81bd"]},"legend":{"legendX":0.5,"legendY":4.5,"rowPadding":1.5,"labelExpr":"datum.label=='D'?'Dredges':datum.label=='H'?'Historical':'Box-cores'"}},
     "size":{"field":"t","type":"nominal","scale":{"domain":["D","H","B"],"range":[25,32,22]},"legend":{"legendX":0.5,"legendY":4.5,"rowPadding":1.5,"labelExpr":"datum.label=='D'?'Dredges':datum.label=='H'?'Historical':'Box-cores'"}}
    }},
   {"data":{"values":[{}]},"mark":{"type":"rect","fill":"transparent","stroke":"#bfbfbf","strokeWidth":1},
    "encoding":{"x":{"datum":-5.9,"type":"quantitative","axis":{"values":[0,10,20,30,40],"format":".1f","labelPadding":0,"title":"% Mn","titleX":166,"titleY":6,"titleAlign":"left","titleBaseline":"middle"}},"x2":{"datum":46.75},"y":{"datum":-0.045,"type":"quantitative","axis":{"values":[0,0.05,0.1,0.15,0.2,0.25,0.3,0.35,0.4],"format":".2f","title":"%Co","titleAngle":270,"titleX":-3,"titleY":11,"titleAlign":"center","titleBaseline":"middle"}},"y2":{"datum":0.415}}},
   {"data":{"values":[{}]},"mark":{"type":"rule","stroke":"#1a1a1a","strokeWidth":3},
    "encoding":{"x":{"datum":-7.2,"type":"quantitative","axis":{"values":[0,10,20,30,40],"format":".1f","labelPadding":0,"title":"% Mn","titleX":166,"titleY":6,"titleAlign":"left","titleBaseline":"middle"}},"x2":{"datum":47.6},"y":{"datum":-0.05125,"type":"quantitative","axis":{"values":[0,0.05,0.1,0.15,0.2,0.25,0.3,0.35,0.4],"format":".2f","title":"%Co","titleAngle":270,"titleX":-3,"titleY":11,"titleAlign":"center","titleBaseline":"middle"}}}},
   {"data":{"values":[{}]},"mark":{"type":"rule","stroke":"#1a1a1a","strokeWidth":3},
    "encoding":{"x":{"datum":47.25,"type":"quantitative","axis":{"values":[0,10,20,30,40],"format":".1f","labelPadding":0,"title":"% Mn","titleX":166,"titleY":6,"titleAlign":"left","titleBaseline":"middle"}},"y":{"datum":-0.06,"type":"quantitative","axis":{"values":[0,0.05,0.1,0.15,0.2,0.25,0.3,0.35,0.4],"format":".2f","title":"%Co","titleAngle":270,"titleX":-3,"titleY":11,"titleAlign":"center","titleBaseline":"middle"}},"y2":{"datum":0.44}}}
 ]}
]
}
